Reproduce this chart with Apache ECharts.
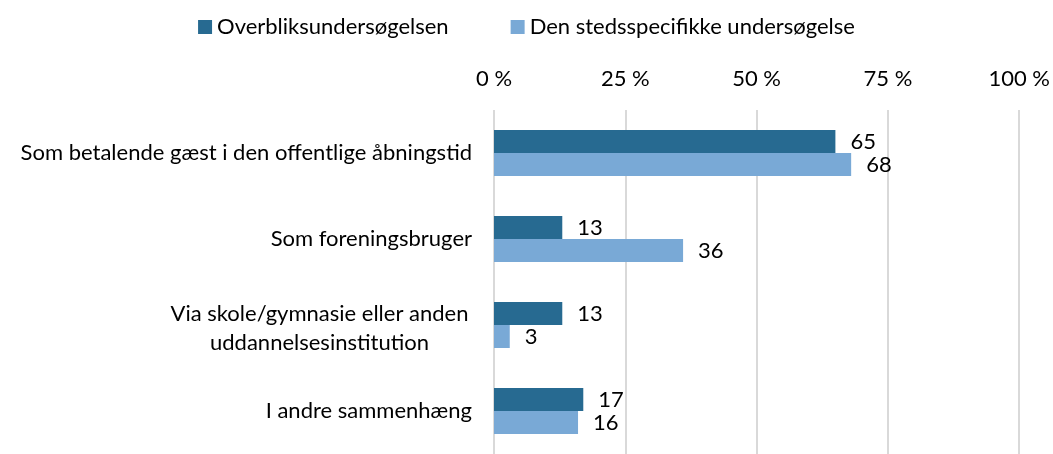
<!DOCTYPE html>
<html>
<head>
<meta charset="utf-8">
<script src="https://cdn.jsdelivr.net/npm/echarts@6/dist/echarts.min.js"></script>
<style>
  html, body { margin: 0; padding: 0; background: #ffffff; }
  #chart { width: 1053px; height: 454px; }
</style>
</head>
<body>
<div id="chart"></div>
<script>
const categories = [
  'Som betalende gæst i den offentlige åbningstid',
  'Som foreningsbruger',
  'Via skole/gymnasie eller anden\nuddannelsesinstitution',
  'I andre sammenhæng'
];
const seriesNames = ['Overbliksundersøgelsen', 'Den stedsspecifikke undersøgelse'];
const overblik = [65, 13, 13, 17];
const stedsspecifik = [68, 36, 3, 16];

const fontFamily = 'Lato, "Open Sans", sans-serif';
const fontSize = 22;
const textColor = '#000000';

let chartDom = document.getElementById('chart');
let myChart = echarts.init(chartDom);
let option;

option = {
  animation: false,
  textStyle: { fontFamily: fontFamily },
  legend: {
    top: 11,
    left: 'center',
    itemWidth: 14,
    itemHeight: 14,
    itemGap: 62,
    icon: 'rect',
    textStyle: { fontSize: fontSize, color: textColor, fontFamily: fontFamily },
    data: seriesNames
  },
  grid: {
    top: 110,
    left: 494,
    right: 33,
    bottom: -8
  },
  xAxis: {
    type: 'value',
    position: 'top',
    min: 0,
    max: 100,
    interval: 25,
    axisLine: { show: false },
    axisTick: { show: false },
    axisLabel: {
      formatter: '{value} %',
      fontSize: fontSize,
      color: textColor,
      margin: 20
    },
    splitLine: { lineStyle: { color: '#d9d9d9', width: 2 } }
  },
  yAxis: {
    type: 'category',
    inverse: true,
    data: categories,
    axisLine: { show: false },
    axisTick: { show: false },
    axisLabel: {
      fontSize: fontSize,
      color: textColor,
      margin: 22,
      lineHeight: 29,
      formatter: (value) => {
        if (value.indexOf('\n') < 0) return value;
        return value.split('\n').map((line) => '{c|' + line + '}').join('\n');
      },
      rich: {
        c: { width: 305, align: 'center', fontSize: fontSize, lineHeight: 29, padding: [6, 0, 0, 0], color: textColor, fontFamily: fontFamily }
      }
    }
  },
  series: [
    {
      name: seriesNames[0],
      type: 'bar',
      data: overblik,
      barWidth: 23,
      barGap: '0%',
      itemStyle: { color: '#276a91' },
      label: { show: true, position: 'right', distance: 15, fontSize: fontSize, color: textColor }
    },
    {
      name: seriesNames[1],
      type: 'bar',
      data: stedsspecifik,
      barWidth: 23,
      barGap: '0%',
      itemStyle: { color: '#79a9d6' },
      label: { show: true, position: 'right', distance: 15, fontSize: fontSize, color: textColor }
    }
  ]
};

option && myChart.setOption(option);
</script>
</body>
</html>
